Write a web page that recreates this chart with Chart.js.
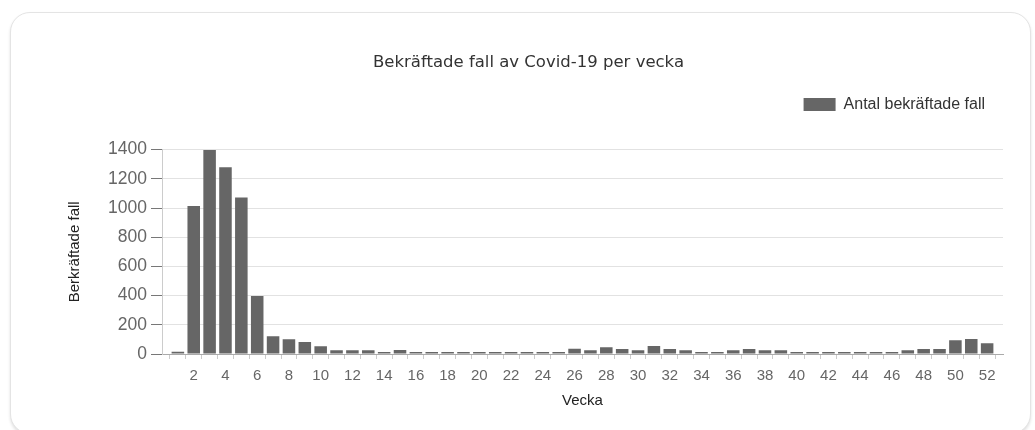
<!DOCTYPE html>
<html>
<head>
<meta charset="utf-8">
<script src="https://cdn.jsdelivr.net/npm/chart.js@4.4.1/dist/chart.umd.min.js"></script>
<style>
  html, body { margin: 0; padding: 0; background: #fff; }
  #wrap { position: relative; width: 1035px; height: 430px; overflow: hidden; }
  #card { position: absolute; left: 10px; top: 12px; width: 1019px; height: 420px;
          border: 1px solid #e4e4e4; border-radius: 20px; background: #fff;
          box-shadow: 0 2px 3px rgba(0,0,0,0.12); }
  #c { position: absolute; left: 0; top: 0; }
</style>
</head>
<body>
<div id="wrap">
  <div id="card"></div>
  <canvas id="c" width="1035" height="430"></canvas>
</div>
<script>
const chartTitle = 'Bekräftade fall av Covid-19 per vecka';
const seriesLabel = 'Antal bekräftade fall';
const yAxisTitle = 'Berkräftade fall';
const xAxisTitle = 'Vecka';
const weeks = [1,2,3,4,5,6,7,8,9,10,11,12,13,14,15,16,17,18,19,20,21,22,23,24,25,26,
               27,28,29,30,31,32,33,34,35,36,37,38,39,40,41,42,43,44,45,46,47,48,49,50,51,52];
const cases = [15,1013,1397,1279,1072,398,121,101,82,53,25,25,25,14,27,14,14,14,14,14,14,14,14,14,14,36,
               25,46,34,25,55,34,25,14,14,25,34,25,25,14,14,14,14,14,14,14,25,34,34,94,102,73];
const xTickLabels = ['2','4','6','8','10','12','14','16','18','20','22','24','26','28','30','32',
                     '34','36','38','40','42','44','46','48','50','52'];
const yTicks = [0,200,400,600,800,1000,1200,1400];

new Chart(document.getElementById('c'), {
  type: 'bar',
  data: {
    labels: weeks,
    datasets: [{
      label: seriesLabel,
      data: cases,
      backgroundColor: '#666666',
      borderWidth: 0,
      categoryPercentage: 1,
      barPercentage: 0.79,
      xAxisID: 'x',
      yAxisID: 'y'
    }]
  },
  options: {
    responsive: false,
    animation: false,
    layout: { padding: { left: 54, right: 32, top: 0, bottom: 20 } },
    plugins: {
      title: {
        display: true,
        text: chartTitle,
        color: '#333',
        font: { family: 'DejaVu Sans', size: 16.5, weight: 'normal' },
        padding: { top: 52.4, bottom: 6.4 }
      },
      legend: {
        display: true,
        position: 'top',
        align: 'end',
        labels: {
          boxWidth: 32,
          boxHeight: 13,
          padding: 18,
          color: '#333',
          font: { family: 'Liberation Sans', size: 16 }
        }
      },
      tooltip: { enabled: false }
    },
    scales: {
      x: {
        type: 'linear',
        position: 'bottom',
        min: 0,
        max: 53,
        offset: false,
        grid: { display: true, drawOnChartArea: false, color: '#cccccc', tickLength: 5 },
        border: { display: true, color: '#aaaaaa' },
        ticks: {
          stepSize: 1,
          autoSkip: false,
          maxRotation: 0,
          padding: 8,
          color: '#666',
          font: { family: 'Liberation Sans', size: 15 },
          callback: (v) => xTickLabels.includes(String(v)) ? String(v) : ''
        },
        title: {
          display: true,
          text: xAxisTitle,
          color: '#222',
          font: { family: 'Liberation Sans', size: 15 },
          padding: { top: 0, bottom: 0 }
        },
        afterFit: (s) => { s.height = 56; }
      },
      xTop: {
        type: 'linear',
        axis: 'x',
        position: 'top',
        display: true,
        grid: { display: false, drawTicks: false },
        border: { display: false },
        ticks: { display: false },
        afterFit: (s) => { s.height = 27; }
      },
      y: {
        type: 'linear',
        min: 0,
        max: 1400,
        grid: { color: '#e2e2e2', tickColor: '#777', tickLength: 11 },
        border: { display: true, color: '#cccccc' },
        afterBuildTicks: (s) => { s.ticks = yTicks.map(v => ({ value: v })); },
        ticks: {
          padding: 4,
          color: '#666',
          font: { family: 'Liberation Sans', size: 17.5 },
          callback: (v) => String(v)
        },
        title: {
          display: true,
          text: yAxisTitle,
          color: '#222',
          font: { family: 'Liberation Sans', size: 15 },
          padding: { top: 12, bottom: 0 }
        },
        afterFit: (s) => { s.width = 108; }
      }
    }
  }
});
</script>
</body>
</html>
